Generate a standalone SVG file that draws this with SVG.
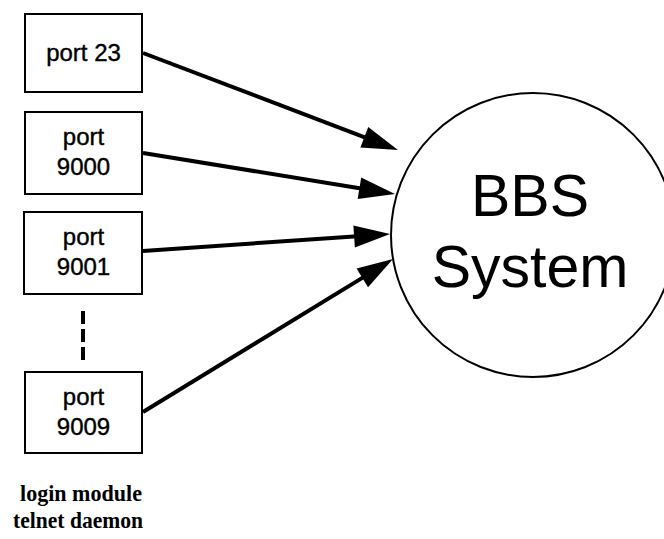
<svg xmlns="http://www.w3.org/2000/svg" width="664" height="539" viewBox="0 0 664 539">
<style>
.box{fill:#fff;stroke:#000;stroke-width:2}
.pt{font-family:"Liberation Sans",Arial,sans-serif;font-size:24px;fill:#000;stroke:#000;stroke-width:0.4;text-anchor:middle}
.big{font-family:"Liberation Sans",Arial,sans-serif;font-size:59px;fill:#000;text-anchor:middle}
.cap{font-family:"Liberation Serif","Times New Roman",serif;font-size:24px;font-weight:bold;fill:#000}
.conn{stroke:#000;stroke-width:4;fill:none}
</style>
<defs>
<marker id="ah" markerUnits="userSpaceOnUse" markerWidth="36" markerHeight="22" refX="11" refY="11" orient="auto" overflow="visible">
<path d="M0,0 L36,11 L0,22 z" fill="#000"/>
</marker>
</defs>
<rect width="664" height="539" fill="#fff"/>
<g id="bbs">
<circle cx="533" cy="235" r="142" fill="#fff" stroke="#000" stroke-width="2"/>
<text class="big" x="530" y="216">BBS</text>
<text class="big" x="530" y="287">System</text>
</g>
<g id="port23">
<rect class="box" x="25" y="14" width="117" height="78"/>
<text class="pt" x="83.5" y="61">port 23</text>
</g>
<g id="port9000">
<rect class="box" x="25" y="112" width="117" height="82"/>
<text class="pt" x="83.5" y="145">port</text>
<text class="pt" x="83.5" y="175">9000</text>
</g>
<g id="port9001">
<rect class="box" x="24" y="212" width="118" height="82"/>
<text class="pt" x="83.5" y="245">port</text>
<text class="pt" x="83.5" y="275">9001</text>
</g>
<g id="port9009">
<rect class="box" x="25" y="372" width="117" height="81"/>
<text class="pt" x="83.5" y="405">port</text>
<text class="pt" x="83.5" y="435">9009</text>
</g>
<g id="label">
<text class="cap" x="20" y="501" textLength="122" lengthAdjust="spacingAndGlyphs">login module</text>
<text class="cap" x="13" y="528" textLength="130" lengthAdjust="spacingAndGlyphs">telnet daemon</text>
</g>
<g id="connectors">
<line class="conn" x1="143" y1="53" x2="374.6" y2="141.1" marker-end="url(#ah)"/>
<line class="conn" x1="143" y1="153" x2="370.3" y2="190" marker-end="url(#ah)"/>
<line class="conn" x1="143" y1="251" x2="365.1" y2="235.7" marker-end="url(#ah)"/>
<line class="conn" x1="143" y1="412" x2="371.7" y2="272.1" marker-end="url(#ah)"/>
<line class="conn" x1="83" y1="311" x2="83" y2="363" stroke-dasharray="13 5"/>
</g>
</svg>
